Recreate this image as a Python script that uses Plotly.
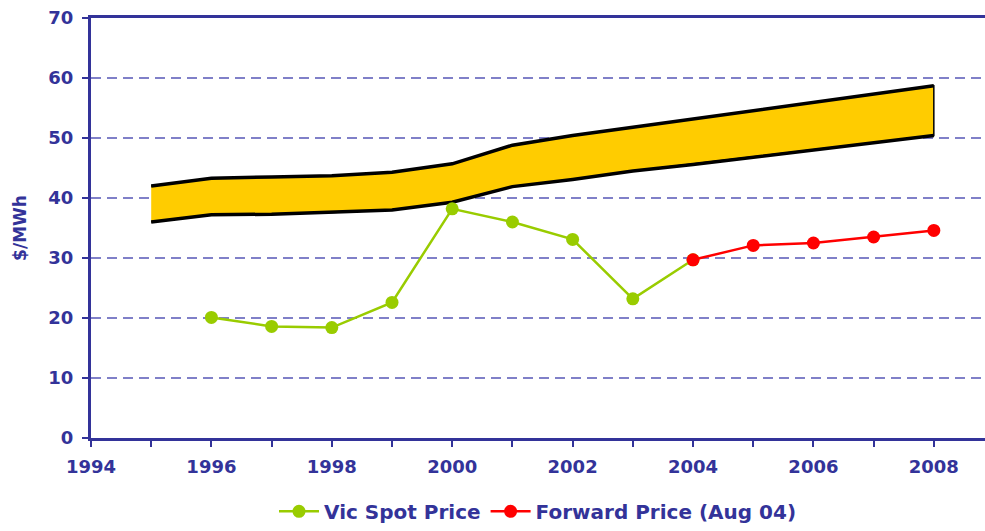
import plotly.graph_objects as go

band_years = [1995, 1996, 1997, 1998, 1999, 2000, 2001, 2002, 2003, 2004, 2005, 2006, 2007, 2008]
band_upper = [42.0, 43.3, 43.5, 43.7, 44.3, 45.7, 48.8, 50.4, 51.8, 53.2, 54.5, 55.9, 57.3, 58.7]
band_lower = [36.0, 37.2, 37.3, 37.6, 38.0, 39.3, 41.9, 43.1, 44.5, 45.6, 46.8, 48.0, 49.2, 50.4]

spot_years = [1996, 1997, 1998, 1999, 2000, 2001, 2002, 2003, 2004]
spot_price = [20.1, 18.6, 18.4, 22.6, 38.2, 36.0, 33.1, 23.2, 29.7]

fwd_years = [2004, 2005, 2006, 2007, 2008]
fwd_price = [29.7, 32.1, 32.5, 33.5, 34.6]

navy = "#333399"
font = "DejaVu Sans"

fig = go.Figure()

# yellow band as a closed polygon
fig.add_trace(go.Scatter(
    x=band_years + band_years[::-1],
    y=band_upper + band_lower[::-1],
    fill="toself", fillcolor="#FFCC00",
    mode="lines", line=dict(color="black", width=1.5),
    showlegend=False, hoverinfo="skip",
))
fig.add_trace(go.Scatter(x=band_years, y=band_upper, mode="lines",
                         line=dict(color="black", width=3.5), showlegend=False))
fig.add_trace(go.Scatter(x=band_years, y=band_lower, mode="lines",
                         line=dict(color="black", width=3.5), showlegend=False))

fig.add_trace(go.Scatter(
    x=spot_years, y=spot_price, name="Vic Spot Price", mode="lines+markers",
    line=dict(color="#99CC00", width=2.5), marker=dict(color="#99CC00", size=13),
))
fig.add_trace(go.Scatter(
    x=fwd_years, y=fwd_price, name="Forward Price (Aug 04)", mode="lines+markers",
    line=dict(color="#FF0000", width=2.5), marker=dict(color="#FF0000", size=13),
))

fig.update_layout(
    width=985, height=531,
    margin=dict(l=91, r=0, t=18, b=93),
    plot_bgcolor="white", paper_bgcolor="white",
    font=dict(family=font, color=navy, size=17),
    legend=dict(orientation="h", x=0.5, xanchor="center", y=-0.221, yanchor="bottom",
                font=dict(size=20, family=font, color=navy, weight="bold"),
                itemwidth=40, tracegroupgap=0),
)
fig.update_xaxes(
    range=[1994, 2008.85], tick0=1994, dtick=2,
    showgrid=False, zeroline=False,
    showline=True, linecolor=navy, linewidth=3, mirror=True,
    ticks="outside", ticklen=6, tickwidth=2, tickcolor=navy, ticklabelstandoff=4,
    minor=dict(ticks="outside", dtick=1, ticklen=6, tickwidth=2, tickcolor=navy),
    tickfont=dict(size=18, color=navy, weight="bold"),
)
fig.update_yaxes(
    range=[0, 70], dtick=10,
    showgrid=True, gridcolor="#8080C8", griddash="10px,6px", gridwidth=1.5,
    zeroline=False,
    showline=True, linecolor=navy, linewidth=3,
    ticks="outside", ticklen=6, tickwidth=2, tickcolor=navy, ticklabelstandoff=5,
    tickfont=dict(size=18, color=navy, weight="bold"),
    title=dict(text="$/MWh", font=dict(size=17, color=navy, weight="bold"), standoff=18),
)

# drop the default page margin so the figure fills the window exactly
fig.write_html("out.html", config={"displayModeBar": False},
               post_script="document.body.style.margin='0';")
